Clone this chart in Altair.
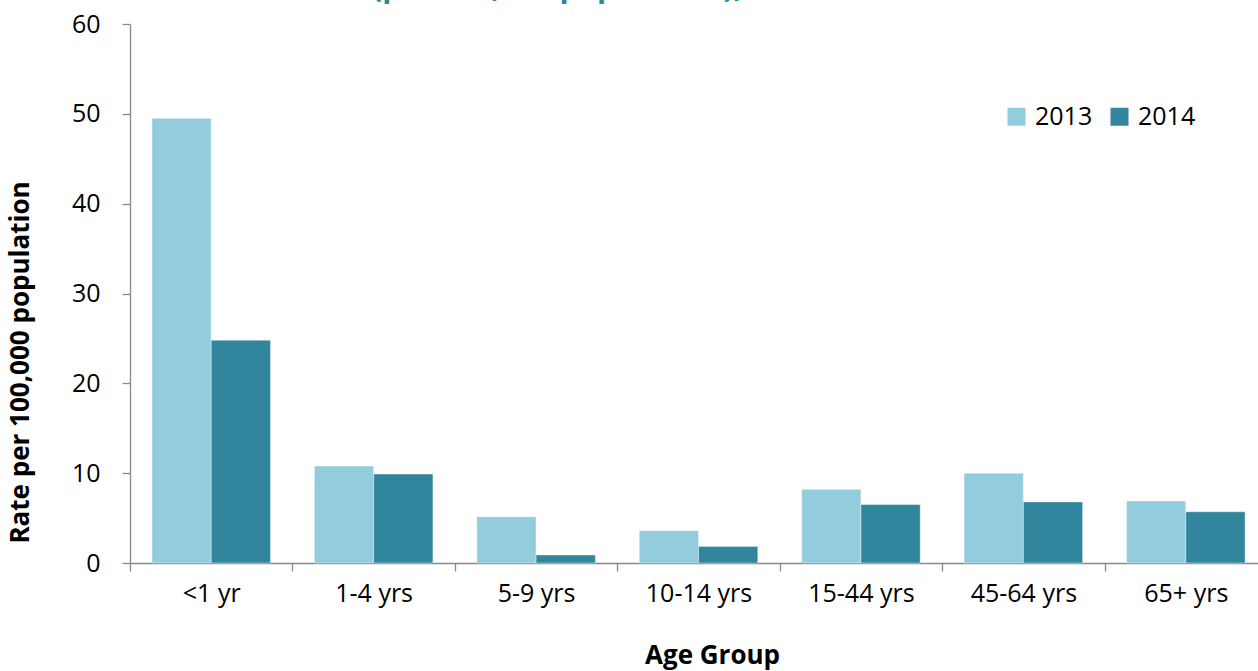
import altair as alt
import pandas as pd

age_groups = ["<1 yr", "1-4 yrs", "5-9 yrs", "10-14 yrs", "15-44 yrs", "45-64 yrs", "65+ yrs"]
rate_2013 = [49.5, 10.8, 5.15, 3.6, 8.2, 10.0, 6.9]
rate_2014 = [24.8, 9.9, 0.9, 1.85, 6.5, 6.8, 5.7]
years = ["2013", "2014"]
colors = ["#93CDDD", "#31859C"]
title_fragment = "(per 100,000 population), 2013\u20132014"

rows = []
for i, g in enumerate(age_groups):
    rows.append({"Age Group": g, "Year": "2013", "Rate": rate_2013[i]})
    rows.append({"Age Group": g, "Year": "2014", "Rate": rate_2014[i]})
df = pd.DataFrame(rows)

FONT = "Open Sans"
AXIS_COLOR = "#898989"

bars = alt.Chart(df).mark_bar(stroke="#ffffff", strokeWidth=0.6, strokeOpacity=0.7).encode(
    x=alt.X(
        "Age Group:N",
        sort=age_groups,
        scale=alt.Scale(paddingInner=0, paddingOuter=0, range=[0, 1137]),
        axis=alt.Axis(
            title="Age Group",
            labelAngle=0,
            tickBand="extent",
            tickSize=8,
            labelPadding=30,
            labelBaseline="alphabetic",
            labelFontSize=25,
            titleFontSize=26,
            titleFontWeight="bold",
            titleX=582,
            titleY=100,
            titleAlign="center",
            titleBaseline="alphabetic",
        ),
    ),
    xOffset=alt.XOffset("Year:N", sort=years, scale=alt.Scale(paddingInner=0, paddingOuter=0.37)),
    y=alt.Y(
        "Rate:Q",
        scale=alt.Scale(domain=[0, 60], nice=False),
        axis=alt.Axis(
            title="Rate per 100,000 population",
            values=[0, 10, 20, 30, 40, 50, 60],
            grid=False,
            tickSize=8,
            labelPadding=22,
            labelFontSize=25,
            titleFontSize=26,
            titleFontWeight="bold",
            titleX=-110,
            titleY=338,
            titleAlign="center",
            titleBaseline="middle",
        ),
    ),
    color=alt.Color(
        "Year:N",
        sort=years,
        scale=alt.Scale(domain=years, range=colors),
        legend=alt.Legend(
            title=None,
            orient="none",
            direction="horizontal",
            legendX=874,
            legendY=80,
            symbolType="square",
            symbolSize=324,
            symbolStrokeWidth=0,
            labelFontSize=25,
            labelOffset=6,
            columnPadding=14,
            padding=0,
        ),
    ),
)

title_df = pd.DataFrame({"t": [title_fragment]})
title_text = alt.Chart(title_df).mark_text(
    font=FONT,
    fontSize=30,
    fontWeight="bold",
    color="#31859C",
    align="left",
    baseline="alphabetic",
).encode(
    text="t:N",
    x=alt.value(242),
    y=alt.value(-27),
)

chart = alt.layer(bars, title_text).properties(
    width=1128,
    height=539,
    padding={"left": 130, "top": 24, "right": 0, "bottom": 108},
    autosize=alt.AutoSizeParams(type="none"),
    background="#ffffff",
).configure_view(stroke=None).configure_axis(
    domainColor=AXIS_COLOR,
    tickColor=AXIS_COLOR,
    domainWidth=1.3,
    tickWidth=1.3,
    labelFont=FONT,
    titleFont=FONT,
    labelColor="#000000",
    titleColor="#000000",
).configure_legend(
    labelFont=FONT,
    labelColor="#000000",
)

chart.save("out.html", embed_options={"renderer": "svg", "actions": False})
